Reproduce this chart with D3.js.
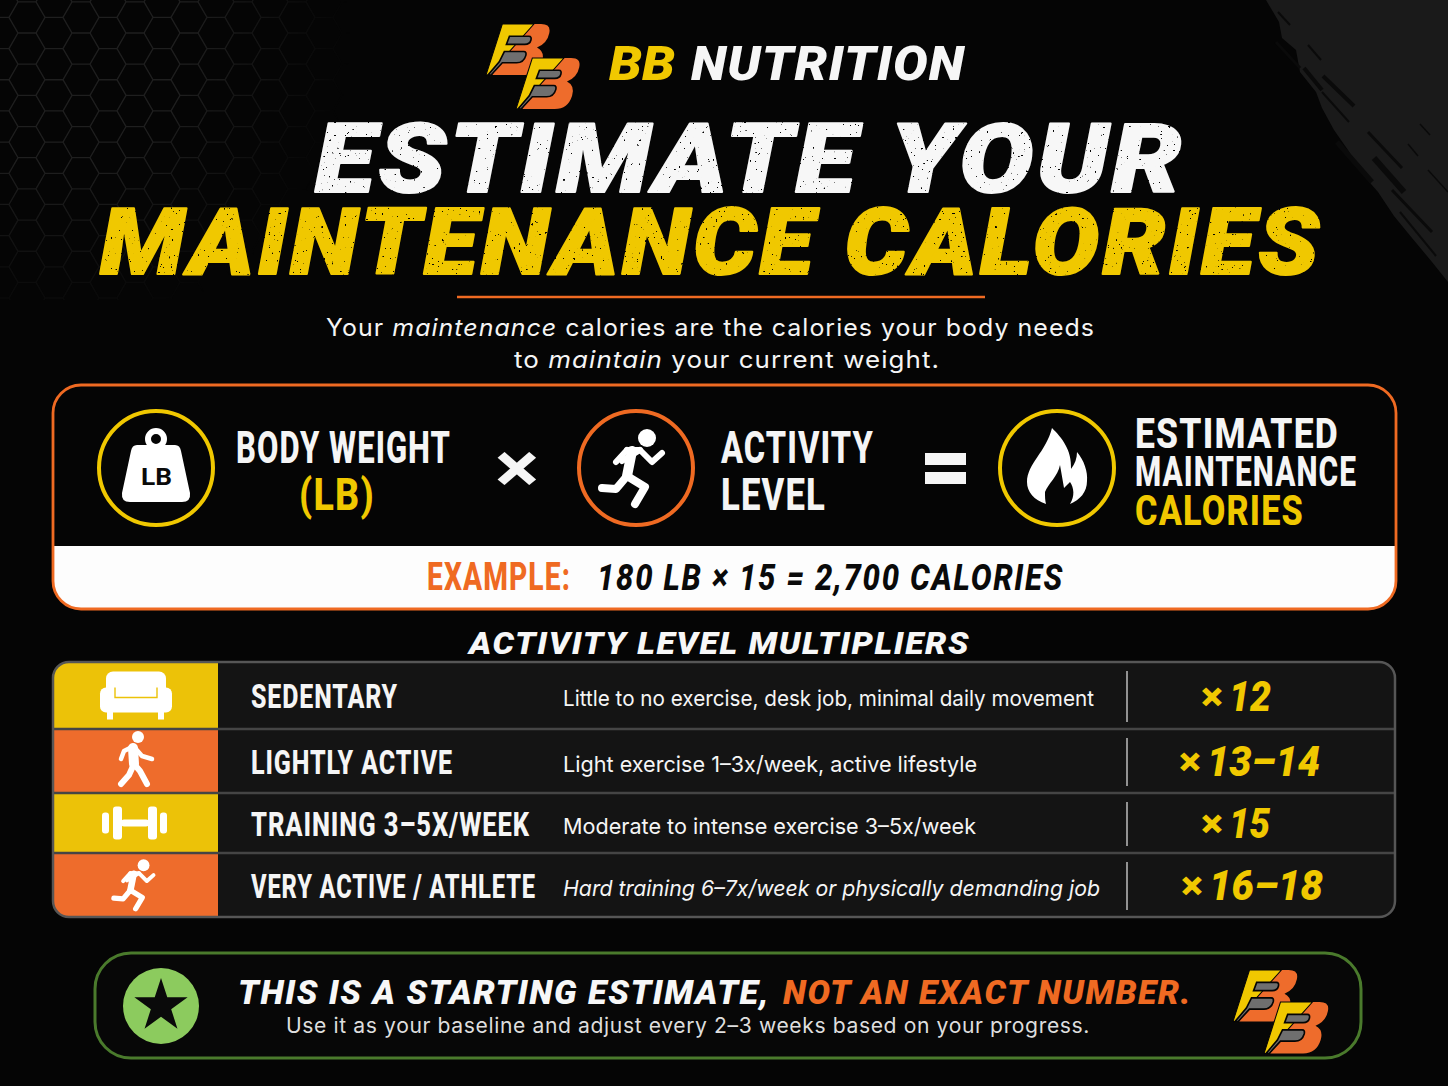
<!DOCTYPE html>
<html>
<head>
<meta charset="utf-8">
<title>Estimate your maintenance calories</title>
<script src="https://d3js.org/d3.v7.min.js"></script>
<style>
	html, body { margin: 0; padding: 0; background: #050505; overflow: hidden; }
	svg { display: block; }
</style>
</head>
<body>
<svg></svg>
<script>
/* data */
const categories = ['SEDENTARY', 'LIGHTLY ACTIVE', 'TRAINING 3–5X/WEEK', 'VERY ACTIVE / ATHLETE'];
const descriptions = [
	'Little to no exercise, desk job, minimal daily movement',
	'Light exercise 1–3x/week, active lifestyle',
	'Moderate to intense exercise 3–5x/week',
	'Hard training 6–7x/week or physically demanding job'
];
const multipliers = ['12', '13–14', '15', '16–18'];
const rowIcons = ['sofa', 'walker', 'dumbbell', 'runner'];

/* layout */
const width = 1448, height = 1086;
const rowEdges = [662, 729, 793, 853, 917];
const labelWidths = [147, 202, 279, 285];
const descWidths = [531, 414, 413, 537];
const multWidths = [42, 113, 41, 114];
const multLeft = [1229, 1207, 1229, 1209];
const descItalic = [false, false, false, true];

const yellow = '#f0c800', orange = '#ef6a22', cellYellow = '#ecc208', cellOrange = '#ee6c2c';
const narrow = 'Roboto, sans-serif';
const heavy = 'Roboto, sans-serif';
const body = 'Inter, "Open Sans", sans-serif';

const svg = d3.select('svg').attr('width', width).attr('height', height);
const defs = svg.append('defs');

/* background */
svg.append('rect').attr('width', width).attr('height', height).attr('fill', '#050505');

const fade = defs.append('radialGradient').attr('id', 'hexFade')
	.attr('gradientUnits', 'userSpaceOnUse')
	.attr('cx', 60).attr('cy', 40).attr('r', 290);
fade.append('stop').attr('offset', 0.45).attr('stop-color', '#fff').attr('stop-opacity', 1);
fade.append('stop').attr('offset', 1).attr('stop-color', '#fff').attr('stop-opacity', 0);
defs.append('mask').attr('id', 'hexMask').append('rect')
	.attr('width', 420).attr('height', 300).attr('fill', 'url(#hexFade)');

const hexR = 18;
const hexes = [];
d3.range(0, 15).forEach(c => d3.range(-1, 10).forEach(r => {
	hexes.push([c * 1.5 * hexR, 33 + r * Math.sqrt(3) * hexR + (c % 2 ? Math.sqrt(3) * hexR / 2 : 0)]);
}));
svg.append('g').attr('mask', 'url(#hexMask)').append('path')
	.attr('fill', 'none').attr('stroke', '#1f1f1f').attr('stroke-width', 1.3)
	.attr('d', hexes.map(([x, y]) => 'M' + d3.range(6).map(i => {
		const a = i * Math.PI / 3;
		return (x + hexR * Math.cos(a)) + ',' + (y + hexR * Math.sin(a));
	}).join('L') + 'Z').join(''));

/* brush stroke, top right */
svg.append('path')
	.attr('fill', '#1a1a1a')
	.attr('d', 'M1266,0L1279,22L1282,38L1296,50L1300,72L1316,92L1322,108L1334,130L1348,150L1364,176L1378,192L1394,216L1412,238L1432,262L1448,282L1448,0Z');
const scratches = [
	[1278, 12, 1290, 25, 2], [1276, 42, 1300, 68, 3], [1308, 45, 1321, 60, 2], [1323, 76, 1354, 106, 4],
	[1304, 68, 1322, 90, 4], [1322, 92, 1349, 122, 2], [1337, 142, 1372, 182, 5], [1368, 132, 1402, 168, 3],
	[1420, 124, 1430, 135, 1.5], [1408, 144, 1418, 156, 1.5], [1374, 158, 1404, 192, 6], [1392, 190, 1432, 232, 3],
	[1428, 170, 1448, 192, 1.5], [1400, 212, 1436, 256, 2]
];
svg.append('g').selectAll('line').data(scratches).join('line')
	.attr('x1', d => d[0]).attr('y1', d => d[1])
	.attr('x2', d => d[2]).attr('y2', d => d[3])
	.attr('stroke', '#0a0a0a').attr('stroke-width', d => d[4]);

/* speckled print look for the big title */
const grunge = defs.append('filter').attr('id', 'grunge')
	.attr('x', '-2%').attr('y', '-5%').attr('width', '104%').attr('height', '110%')
	.attr('color-interpolation-filters', 'sRGB');
grunge.append('feTurbulence').attr('type', 'fractalNoise').attr('baseFrequency', 0.38)
	.attr('numOctaves', 2).attr('seed', 7).attr('result', 'n');
grunge.append('feColorMatrix').attr('in', 'n').attr('type', 'matrix')
	.attr('values', '0 0 0 0 0  0 0 0 0 0  0 0 0 0 0  22 0 0 0 -16').attr('result', 'holes');
grunge.append('feComposite').attr('in', 'SourceGraphic').attr('in2', 'holes').attr('operator', 'out');

/* text helper: w squeezes the string to the width measured on the reference */
function put(parent, str, x, y, o) {
	const t = parent.append('text')
		.attr('x', x).attr('y', y)
		.attr('font-family', o.family || narrow)
		.attr('font-size', o.size)
		.attr('font-weight', o.weight || 700)
		.attr('font-style', o.italic ? 'italic' : 'normal')
		.attr('letter-spacing', o.spacing || 0)
		.attr('fill', o.fill || '#f5f5f5');
	if (o.thicken) t.attr('stroke', o.fill).attr('stroke-width', o.thicken).attr('stroke-linejoin', 'round');
	if (Array.isArray(str)) {
		str.forEach(s => t.append('tspan').attr('font-style', s.italic ? 'italic' : 'normal').text(s.text));
	} else {
		t.text(str);
	}
	if (o.w) t.attr('textLength', o.w).attr('lengthAdjust', 'spacingAndGlyphs');
	return t;
}

/* logo: a pair of slanted B's, drawn in a 62 x 50 box */
function logoMark(parent, x, y, s) {
	const g = parent.append('g').attr('transform', `translate(${x},${y}) scale(${s})`);
	g.append('path').attr('fill', cellOrange)
		.attr('d', 'M38,0L54,0Q64,0 62,9Q60,19 50,23Q58,27 55,37Q51,50 38,50L6,50Z');
	g.append('path').attr('fill', yellow).attr('stroke', '#050505').attr('stroke-width', 1)
		.attr('d', 'M16,0L47,0L22,28L5,50L0,50Z');
	g.append('path').attr('fill', '#6f6f6f').attr('stroke', '#050505').attr('stroke-width', 1.6)
		.attr('d', 'M23,12L42,12Q45,12 44,16Q43,20 38,20L20,20Z');
	g.append('path').attr('fill', '#6f6f6f').attr('stroke', '#050505').attr('stroke-width', 1.6)
		.attr('d', 'M18,27L37,27Q40,27 39,31Q37,38 30,38L16,38L5,50L2,50L13,37Z');
}
function logoPair(parent, x1, y1, x2, y2, s) {
	logoMark(parent, x1, y1, s);
	logoMark(parent, x2, y2, s);
}

/* icons, centred on (0,0) */
function limbs(g) {
	return (d, w) => g.append('path').attr('d', d).attr('fill', 'none')
		.attr('stroke', '#fff').attr('stroke-width', w)
		.attr('stroke-linecap', 'round').attr('stroke-linejoin', 'round');
}
function runner(g) {
	const limb = limbs(g);
	g.append('circle').attr('cx', 13).attr('cy', -30).attr('r', 9).attr('fill', '#fff');
	limb('M-7,-18L6,-18L-12,-7', 6);
	limb('M-7,-18L-18,-6', 6);
	limb('M-2,-17L-7,8', 10);
	limb('M6,-18L18,-6L28,-15', 6);
	limb('M-7,8L11,19L1,36', 8);
	limb('M-7,8L-18,21L-32,20', 8);
}
function walker(g) {
	const limb = limbs(g);
	g.append('circle').attr('cx', 3).attr('cy', -24).attr('r', 6).attr('fill', '#fff');
	limb('M-2,-13L-1,3', 10);
	limb('M-3,-14L-11,-10L-14,-2', 4.5);
	limb('M0,-13L7,-5L17,-2', 4.5);
	limb('M-1,3L-6,14L-14,23', 6);
	limb('M-1,3L5,10L12,23', 6);
}
function sofa(g) {
	g.append('rect').attr('x', -29).attr('y', -24).attr('width', 60).attr('height', 26).attr('rx', 7).attr('fill', '#fff');
	g.append('rect').attr('x', -35).attr('y', -8).attr('width', 72).attr('height', 25).attr('rx', 6).attr('fill', '#fff');
	g.append('path').attr('d', 'M-20,-8L-20,2L22,2L22,-8').attr('fill', 'none').attr('stroke', cellYellow).attr('stroke-width', 1.4);
	g.append('rect').attr('x', -28).attr('y', 16).attr('width', 6).attr('height', 8).attr('fill', '#fff');
	g.append('rect').attr('x', 23).attr('y', 16).attr('width', 6).attr('height', 8).attr('fill', '#fff');
}
function dumbbell(g) {
	const bar = (x, w, h) => g.append('rect').attr('x', x).attr('y', -h / 2)
		.attr('width', w).attr('height', h).attr('rx', 3).attr('fill', '#fff');
	bar(-14, 28, 7);
	bar(-22, 9, 33);
	bar(13, 9, 33);
	bar(-33, 7, 21);
	bar(25, 7, 21);
}
const iconDraw = {sofa, walker, dumbbell, runner};

/* header */
logoPair(svg, 486, 24, 516, 58, 1.02);
put(svg, 'BB', 609, 80, {family: heavy, size: 48, weight: 900, italic: true, fill: yellow, w: 66});
put(svg, 'NUTRITION', 691, 80, {family: heavy, size: 48, weight: 900, italic: true, fill: '#f6f6f6', w: 274, spacing: 1});

const title = svg.append('g').attr('filter', 'url(#grunge)');
put(title, 'ESTIMATE YOUR', 315, 192, {family: heavy, size: 96, weight: 900, italic: true, fill: '#f7f7f7', w: 870, spacing: 3, thicken: 2});
put(title, 'MAINTENANCE CALORIES', 100, 274, {family: heavy, size: 92, weight: 900, italic: true, fill: yellow, w: 1222, spacing: 3, thicken: 2});

svg.append('line').attr('x1', 457).attr('x2', 985).attr('y1', 297).attr('y2', 297)
	.attr('stroke', orange).attr('stroke-width', 2.5);
put(svg, [{text: 'Your '}, {text: 'maintenance', italic: true}, {text: ' calories are the calories your body needs'}], 326, 336,
	{family: body, size: 24, weight: 400, w: 769, spacing: 1});
put(svg, [{text: 'to '}, {text: 'maintain', italic: true}, {text: ' your current weight.'}], 514, 368,
	{family: body, size: 24, weight: 400, w: 426, spacing: 1});

/* formula panel */
defs.append('clipPath').attr('id', 'panelClip').append('rect')
	.attr('x', 53).attr('y', 385).attr('width', 1343).attr('height', 224).attr('rx', 28);
svg.append('rect').attr('x', 53).attr('y', 385).attr('width', 1343).attr('height', 224).attr('rx', 28)
	.attr('fill', '#050505');
svg.append('rect').attr('clip-path', 'url(#panelClip)')
	.attr('x', 53).attr('y', 546).attr('width', 1343).attr('height', 63).attr('fill', '#fdfdfd');
svg.append('rect').attr('x', 53).attr('y', 385).attr('width', 1343).attr('height', 224).attr('rx', 28)
	.attr('fill', 'none').attr('stroke', orange).attr('stroke-width', 2.8);

[[156, yellow], [636, orange], [1057, yellow]].forEach(([cx, c]) => {
	svg.append('circle').attr('cx', cx).attr('cy', 468).attr('r', 57)
		.attr('fill', 'none').attr('stroke', c).attr('stroke-width', 4);
});

/* weight icon */
svg.append('circle').attr('cx', 156).attr('cy', 439).attr('r', 8)
	.attr('fill', 'none').attr('stroke', '#fff').attr('stroke-width', 6);
svg.append('path').attr('fill', '#fff')
	.attr('d', 'M137,445L175,445Q180,445 181,451L190,493Q191,502 182,502L130,502Q121,502 122,493L131,451Q132,445 137,445Z');
put(svg, 'LB', 141, 485, {family: heavy, size: 24, weight: 700, fill: '#0a0a0a', w: 31});

iconDraw.runner(svg.append('g').attr('transform', 'translate(634,468)'));

/* flame */
svg.append('path').attr('fill', '#fff')
	.attr('d', 'M1052,428C1062,438 1072,450 1071,469C1075,464 1077,458 1077,452C1084,460 1088,472 1087,481C1087,492 1080,500 1070,504C1075,496 1074,488 1070,482L1064,488L1060,465C1058,476 1048,484 1045,492C1045,497 1045,500 1046,504C1034,500 1027,492 1027,482C1027,464 1046,452 1052,428Z');

put(svg, 'BODY WEIGHT', 236, 463, {size: 45, weight: 800, w: 215, spacing: 1.5});
put(svg, '(LB)', 299, 510, {size: 45, weight: 800, fill: yellow, w: 76, spacing: 1.5});
put(svg, '×', 495, 492, {family: heavy, size: 70, weight: 700, w: 44});
put(svg, 'ACTIVITY', 721, 463, {size: 45, weight: 800, w: 153, spacing: 1.5});
put(svg, 'LEVEL', 721, 510, {size: 45, weight: 800, w: 105, spacing: 1.5});
svg.append('rect').attr('x', 925).attr('y', 453).attr('width', 41).attr('height', 12).attr('fill', '#f5f5f5');
svg.append('rect').attr('x', 925).attr('y', 472).attr('width', 41).attr('height', 12).attr('fill', '#f5f5f5');
put(svg, 'ESTIMATED', 1135, 448, {size: 43, weight: 800, w: 204, spacing: 1.5});
put(svg, 'MAINTENANCE', 1135, 486, {size: 43, weight: 800, w: 222, spacing: 1.5});
put(svg, 'CALORIES', 1135, 525, {size: 43, weight: 800, fill: yellow, w: 169, spacing: 1.5});

put(svg, 'EXAMPLE:', 427, 590, {size: 38, weight: 800, fill: orange, w: 144, spacing: 1.5});
put(svg, '180 LB × 15 = 2,700 CALORIES', 597, 590, {size: 37, weight: 800, italic: true, fill: '#0a0a0a', w: 467, spacing: 2});

/* multiplier table */
put(svg, 'ACTIVITY LEVEL MULTIPLIERS', 469, 654, {family: heavy, size: 32, weight: 900, italic: true, fill: '#f7f7f7', w: 501, spacing: 1.5});

const tableH = rowEdges[4] - rowEdges[0];
defs.append('clipPath').attr('id', 'tableClip').append('rect')
	.attr('x', 53).attr('y', rowEdges[0]).attr('width', 1342).attr('height', tableH).attr('rx', 16);
svg.append('rect').attr('x', 53).attr('y', rowEdges[0]).attr('width', 1342).attr('height', tableH)
	.attr('rx', 16).attr('fill', '#141414');

const rowIndex = d3.scaleOrdinal(categories, d3.range(categories.length));
const rowTop = d => rowEdges[rowIndex(d)];
const rowHeight = d => rowEdges[rowIndex(d) + 1] - rowEdges[rowIndex(d)];
const rowMid = d => rowTop(d) + rowHeight(d) / 2;

svg.append('g').attr('clip-path', 'url(#tableClip)')
	.selectAll('rect').data(categories).join('rect')
	.attr('x', 53).attr('width', 165)
	.attr('y', rowTop).attr('height', rowHeight)
	.attr('fill', (d, i) => i % 2 ? cellOrange : cellYellow);

svg.append('g').selectAll('line').data(rowEdges.slice(1, -1)).join('line')
	.attr('x1', 53).attr('x2', 1395)
	.attr('y1', d => d).attr('y2', d => d)
	.attr('stroke', '#454545').attr('stroke-width', 2.5);

svg.append('rect').attr('x', 53).attr('y', rowEdges[0]).attr('width', 1342).attr('height', tableH)
	.attr('rx', 16).attr('fill', 'none').attr('stroke', '#565656').attr('stroke-width', 2.5);

categories.forEach((c, i) => {
	const iconScale = rowIcons[i] === 'runner' ? 0.66 : 1;
	const g = svg.append('g').attr('transform', `translate(135,${rowMid(c)}) scale(${iconScale})`);
	iconDraw[rowIcons[i]](g);

	put(svg, c, 251, rowMid(c) + 12.5, {size: 34, weight: 800, w: labelWidths[i], spacing: 1.2});
	put(svg, descriptions[i], 563, rowMid(c) + 10.5, {family: body, size: 22, weight: 400, italic: descItalic[i], w: descWidths[i]});

	svg.append('line').attr('x1', 1127).attr('x2', 1127)
		.attr('y1', rowTop(c) + 9).attr('y2', rowTop(c) + rowHeight(c) - 7)
		.attr('stroke', '#bdbdbd').attr('stroke-width', 1.5);

	put(svg, '×', multLeft[i] - 28, rowMid(c) + 14, {family: heavy, size: 38, weight: 900, fill: yellow, w: 22});
	put(svg, multipliers[i], multLeft[i], rowMid(c) + 15, {family: heavy, size: 42, weight: 900, italic: true, fill: yellow, w: multWidths[i]});
});

/* footer note */
svg.append('rect').attr('x', 95).attr('y', 953).attr('width', 1266).attr('height', 105).attr('rx', 36)
	.attr('fill', '#070707').attr('stroke', '#4a7a2c').attr('stroke-width', 3);
svg.append('circle').attr('cx', 161).attr('cy', 1006).attr('r', 38).attr('fill', '#8ccb5e');
svg.append('path').attr('transform', 'translate(161,1006)')
	.attr('d', d3.symbol().type(d3.symbolStar).size(880)()).attr('fill', '#0a0a0a');

put(svg, 'THIS IS A STARTING ESTIMATE,', 238, 1004, {family: heavy, size: 33, weight: 900, italic: true, fill: '#f7f7f7', w: 532, spacing: 1.5});
put(svg, 'NOT AN EXACT NUMBER.', 783, 1004, {family: heavy, size: 33, weight: 900, italic: true, fill: orange, w: 409, spacing: 1.5});
put(svg, 'Use it as your baseline and adjust every 2–3 weeks based on your progress.', 286, 1033,
	{family: body, size: 21, weight: 400, fill: '#dedede', w: 804, spacing: 0.6});
logoPair(svg, 1233, 970, 1264, 1002, 1.03);
</script>
</body>
</html>
